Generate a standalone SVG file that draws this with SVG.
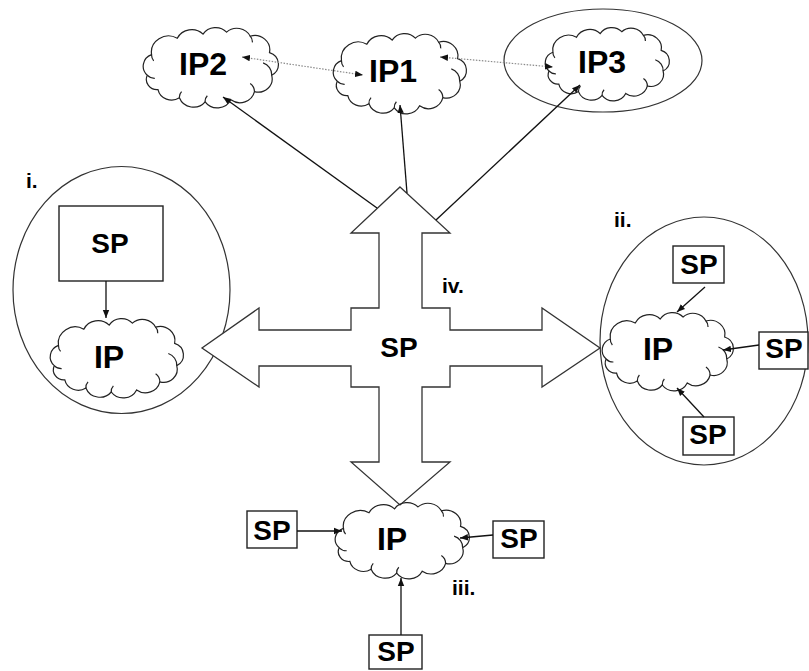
<svg xmlns="http://www.w3.org/2000/svg" xmlns:xlink="http://www.w3.org/1999/xlink" width="809" height="671" viewBox="0 0 809 671">
<style>
.bg{fill:#fff}
.ell{fill:none;stroke:#333;stroke-width:1.2}
.cl{fill:none;stroke:#222;stroke-width:1.2}
.box{fill:#fff;stroke:#222;stroke-width:1.4}
.cross{fill:#fff;stroke:#333;stroke-width:1.3}
.ln{fill:none;stroke:#111;stroke-width:1.3}
.dot{fill:none;stroke:#8a8a8a;stroke-width:1.2;stroke-dasharray:1.5 1.5}
.t{font-family:"Liberation Sans",Arial,sans-serif;font-weight:bold;fill:#000;text-anchor:middle}
.big{font-size:32px}
.sp{font-size:28px}
.num{font-family:"Liberation Sans",Arial,sans-serif;font-weight:bold;font-size:21px;fill:#000}
</style>
<defs>
<marker id="ah" viewBox="0 0 10 10" refX="10" refY="5" markerWidth="8" markerHeight="8" markerUnits="userSpaceOnUse" orient="auto-start-reverse"><path d="M0,1 L10,5 L0,9 z" fill="#111"/></marker>
<g id="cloud">
<path vector-effect="non-scaling-stroke" d="M8,50 A12,12 0 0 1 12,30 A16,16 0 0 1 36,14 A15,15 0 0 1 60,10 A14,14 0 0 1 82,8 A14,14 0 0 1 104,12 A14,14 0 0 1 122,28 A12,12 0 0 1 124,50 A13,13 0 0 1 108,66 A14,14 0 0 1 86,74 A14,14 0 0 1 62,76 A14,14 0 0 1 38,72 A13,13 0 0 1 18,64 A10,10 0 0 1 8,50 Z"/>
<path vector-effect="non-scaling-stroke" d="M8,50 A9,9 0 0 0 15,53 M12,30 A9,9 0 0 0 14,36 M104,12 A8,8 0 0 1 106,18 M124,50 A12,12 0 0 0 116,38 M108,66 A10,10 0 0 0 104,58 M62,76 A8,8 0 0 1 64,70 M38,72 A8,8 0 0 1 40,66"/>
</g>
</defs>
<rect class="bg" x="0" y="0" width="809" height="671"/>

<g id="group-i">
<ellipse class="ell" cx="121.5" cy="290" rx="108.5" ry="123.5"/>
<text class="num" x="26" y="188">i.</text>
</g>
<g id="group-ii">
<ellipse class="ell" cx="704" cy="341" rx="104" ry="124"/>
<text class="num" x="614" y="227">ii.</text>
</g>
<g id="group-ip3">
<ellipse class="ell" cx="603" cy="60.5" rx="99" ry="51.5"/>
</g>

<g id="sp-center">
<polygon class="cross" points="400,187 450,233 422,233 422,308 450,308 450,330 542,330 542,308 600,348 542,387 542,366 450,366 450,387 422,387 422,462 450,462 400,505 351,462 379,462 379,387 351,387 351,366 259,366 259,387 202,348 259,308 259,330 351,330 351,308 379,308 379,233 351,233"/>
<text class="t sp" x="399" y="357">SP</text>
<text class="num" x="442" y="293">iv.</text>
</g>

<g id="ip2"><use xlink:href="#cloud" class="cl" transform="translate(138.7,23.9) scale(1.072,1.026)"/><text class="t big" x="203" y="75">IP2</text></g>
<g id="ip1"><use xlink:href="#cloud" class="cl" transform="translate(328.8,29.9) scale(1.056,1.026)"/><text class="t big" x="393" y="82">IP1</text></g>
<g id="ip3"><use xlink:href="#cloud" class="cl" transform="translate(541.1,24.2) scale(0.984,0.936)"/><text class="t big" x="602" y="73">IP3</text></g>

<g id="ip-i"><use xlink:href="#cloud" class="cl" transform="translate(45.8,315) scale(1.056,1.013)"/><text class="t big" x="109" y="368">IP</text></g>
<g id="sp-i"><rect class="box" x="59" y="206" width="104" height="75"/><text class="t sp" x="110" y="253">SP</text></g>

<g id="ip-ii"><use xlink:href="#cloud" class="cl" transform="translate(597.8,309) scale(1.04,1)"/><text class="t big" x="658" y="360">IP</text></g>
<g id="sp-ii-top"><rect class="box" x="673" y="246" width="51" height="37"/><text class="t sp" x="699" y="274">SP</text></g>
<g id="sp-ii-right"><rect class="box" x="759" y="332" width="49" height="37"/><text class="t sp" x="784" y="358">SP</text></g>
<g id="sp-ii-bottom"><rect class="box" x="683" y="417" width="51" height="38"/><text class="t sp" x="708" y="444">SP</text></g>

<g id="ip-iii"><use xlink:href="#cloud" class="cl" transform="translate(330.7,499.1) scale(1.064,0.974)"/><text class="t big" x="392" y="550">IP</text><text class="num" x="452" y="595">iii.</text></g>
<g id="sp-iii-left"><rect class="box" x="247" y="511" width="50" height="37"/><text class="t sp" x="272" y="540">SP</text></g>
<g id="sp-iii-right"><rect class="box" x="493" y="521" width="51" height="37"/><text class="t sp" x="519" y="548">SP</text></g>
<g id="sp-iii-bottom"><rect class="box" x="369" y="635" width="53" height="34"/><text class="t sp" x="396" y="661">SP</text></g>

<g id="connectors">
<line class="ln" x1="106" y1="281" x2="106" y2="318" marker-end="url(#ah)"/>
<line class="ln" x1="705" y1="287" x2="677" y2="312" marker-end="url(#ah)"/>
<line class="ln" x1="759" y1="345" x2="723" y2="350" marker-end="url(#ah)"/>
<line class="ln" x1="704" y1="417" x2="677" y2="388" marker-end="url(#ah)"/>
<line class="ln" x1="297" y1="531" x2="342" y2="531" marker-end="url(#ah)"/>
<line class="ln" x1="493" y1="535" x2="460" y2="538" marker-end="url(#ah)"/>
<line class="ln" x1="401" y1="635" x2="401" y2="578" marker-end="url(#ah)"/>
<line class="ln" x1="377" y1="208" x2="223" y2="97" marker-end="url(#ah)"/>
<line class="ln" x1="407" y1="193" x2="400" y2="105" marker-end="url(#ah)"/>
<line class="ln" x1="436" y1="220" x2="580" y2="85" marker-end="url(#ah)"/>
<line class="dot" x1="242" y1="57" x2="363" y2="75" marker-start="url(#ah)" marker-end="url(#ah)"/>
<line class="dot" x1="440" y1="57" x2="553" y2="67" marker-start="url(#ah)" marker-end="url(#ah)"/>
</g>
</svg>
